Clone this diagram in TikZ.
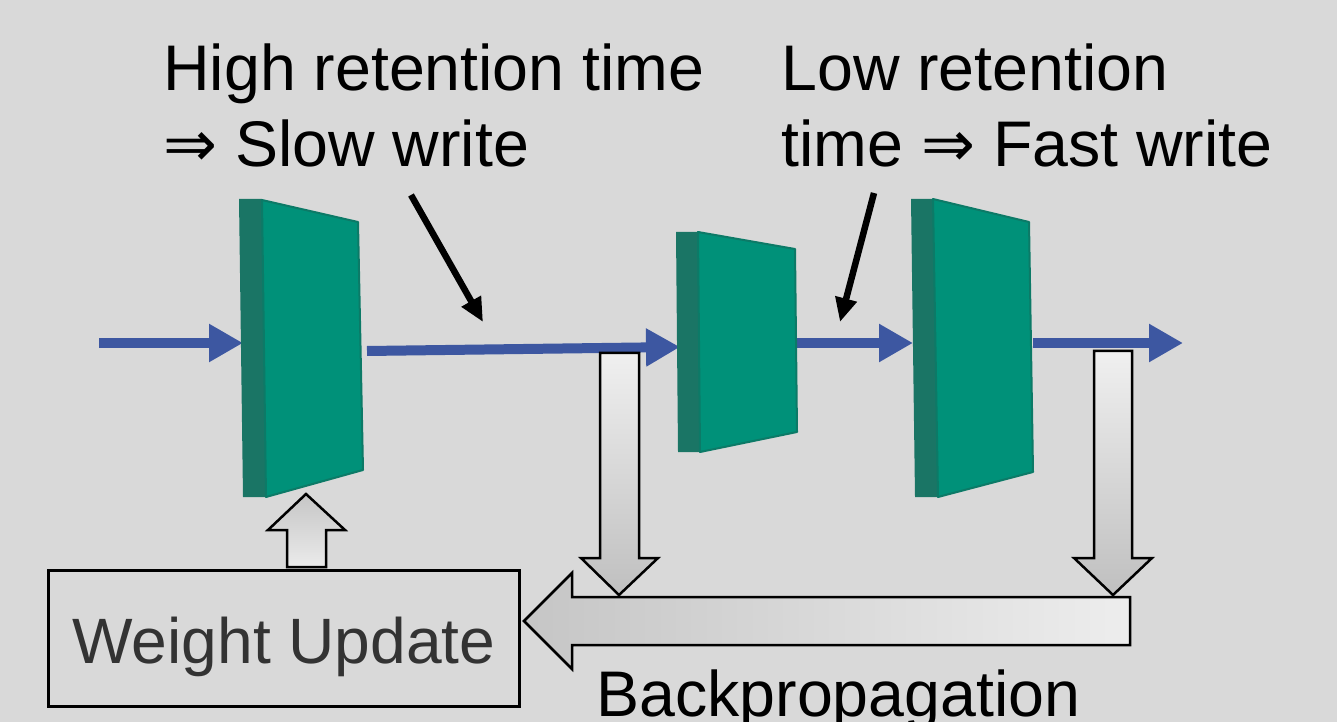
\documentclass[tikz,border=0pt]{standalone}
\usepackage{fontspec}
\setmainfont{Liberation Sans}
\newfontfamily\arrowfont{DejaVu Sans}
\usetikzlibrary{arrows.meta}
\tikzset{% change default arrow tips
    >={Triangle[length=0.68cm,width=0.72cm]}
}
\definecolor{bggray}{HTML}{D9D9D9}
\definecolor{layerface}{HTML}{009179}
\definecolor{layerside}{HTML}{1A7565}
\definecolor{layeredge}{HTML}{0C7A67}
\definecolor{flowblue}{HTML}{3D57A1}
\definecolor{boxtext}{HTML}{333333}
\tikzset{
    flow/.style={->, flowblue, line width=0.2cm},
    pointer/.style={-{Triangle[length=0.48cm,width=0.42cm]}, line width=0.13cm},
    side/.style={fill=layerside},
    face/.style={fill=layerface, draw=layeredge, line width=0.04cm, line join=round},
    downblock/.style={draw=black, line width=0.05cm, line join=miter, top color=gray!12, bottom color=gray!50},
    leftblock/.style={draw=black, line width=0.05cm, line join=miter, left color=gray!45, right color=gray!14},
    upblock/.style={draw=black, line width=0.05cm, line join=miter, top color=gray!45, bottom color=gray!16},
    caption/.style={inner sep=0, font=\fontsize{36.7}{43.8}\selectfont, align=left}
}

\begin{document}
\begin{tikzpicture}[x=0.02cm, y=-0.02cm]
    		% canvas
    		\fill[bggray] (0,0) rectangle (1337,722);
    		\useasboundingbox (0,0) rectangle (1337,722);
    	
    		% forward pass
    		\coordinate (in) at (99,343);
    		\coordinate (p1in) at (243,343);
    		\coordinate (p1out) at (367,351);
    		\coordinate (p2in) at (680,347);
    		\coordinate (p2out) at (797,343);
    		\coordinate (p3in) at (913,343);
    		\coordinate (p3out) at (1033,343);
    		\coordinate (out) at (1183,343);
        	\draw[flow] (in) -- (p1in);
        	\draw[flow] (p1out) -- (p2in);
        	\draw[flow] (p2out) -- (p3in);
        	\draw[flow] (p3out) -- (out);
    	
    		% layers
    		\fill[side] (239,199) -- (262,199) -- (266,497) -- (243,497) -- cycle;
    		\filldraw[face] (262,200) -- (358,222) -- (363,470) -- (266,497) -- cycle;
    		\fill[side] (676,232) -- (698,232) -- (700,452) -- (678,452) -- cycle;
    		\filldraw[face] (698,232) -- (795,249) -- (797,432) -- (700,452) -- cycle;
    		\fill[side] (911,199) -- (933,199) -- (938,497) -- (915,497) -- cycle;
    		\filldraw[face] (933,199) -- (1029,222) -- (1033,472) -- (938,497) -- cycle;
    	
    		% backward pass
    		\filldraw[leftblock] (1130,597) -- (1130,645) -- (572,645) -- (572,669) -- (524,621) -- (572,573) -- (572,597) -- cycle;
    		\filldraw[downblock] (600,353) -- (639,353) -- (639,558) -- (658,558) -- (619,595) -- (581,558) -- (600,558) -- cycle;
    		\filldraw[downblock] (1094,351) -- (1132,351) -- (1132,558) -- (1152,558) -- (1113,595) -- (1074,558) -- (1094,558) -- cycle;
    		\filldraw[upblock] (287,567) -- (326,567) -- (326,530) -- (345,530) -- (306,494) -- (268,530) -- (287,530) -- cycle;
    	
    		% labels (base = last line)
		    \node[caption, anchor=base west] (hightxt) at (163,167) {High retention time\\{\arrowfont ⇒} Slow write};
		    \node[caption, anchor=base west] (lowtxt) at (781,167) {Low retention\\time {\arrowfont ⇒} Fast write};
		    \node[caption, anchor=base west] (backtxt) at (596,716) {Backpropagation};
		    \node[draw, line width=0.06cm, inner sep=0, minimum width=9.44cm, text height=1.86cm, text depth=0.88cm,
		          font=\fontsize{36.5}{43.8}\selectfont, text=boxtext, anchor=base] (update) at (284,663) {Weight Update};
    	
    		% pointers
    		\coordinate (slowtail) at (411,195);
    		\coordinate (slowtip) at (483,322);
    		\coordinate (fasttail) at (874,193);
    		\coordinate (fasttip) at (840,322);
		    \draw[pointer] (slowtail) -- (slowtip);
		    \draw[pointer] (fasttail) -- (fasttip);
		      
\end{tikzpicture}
\end{document}
